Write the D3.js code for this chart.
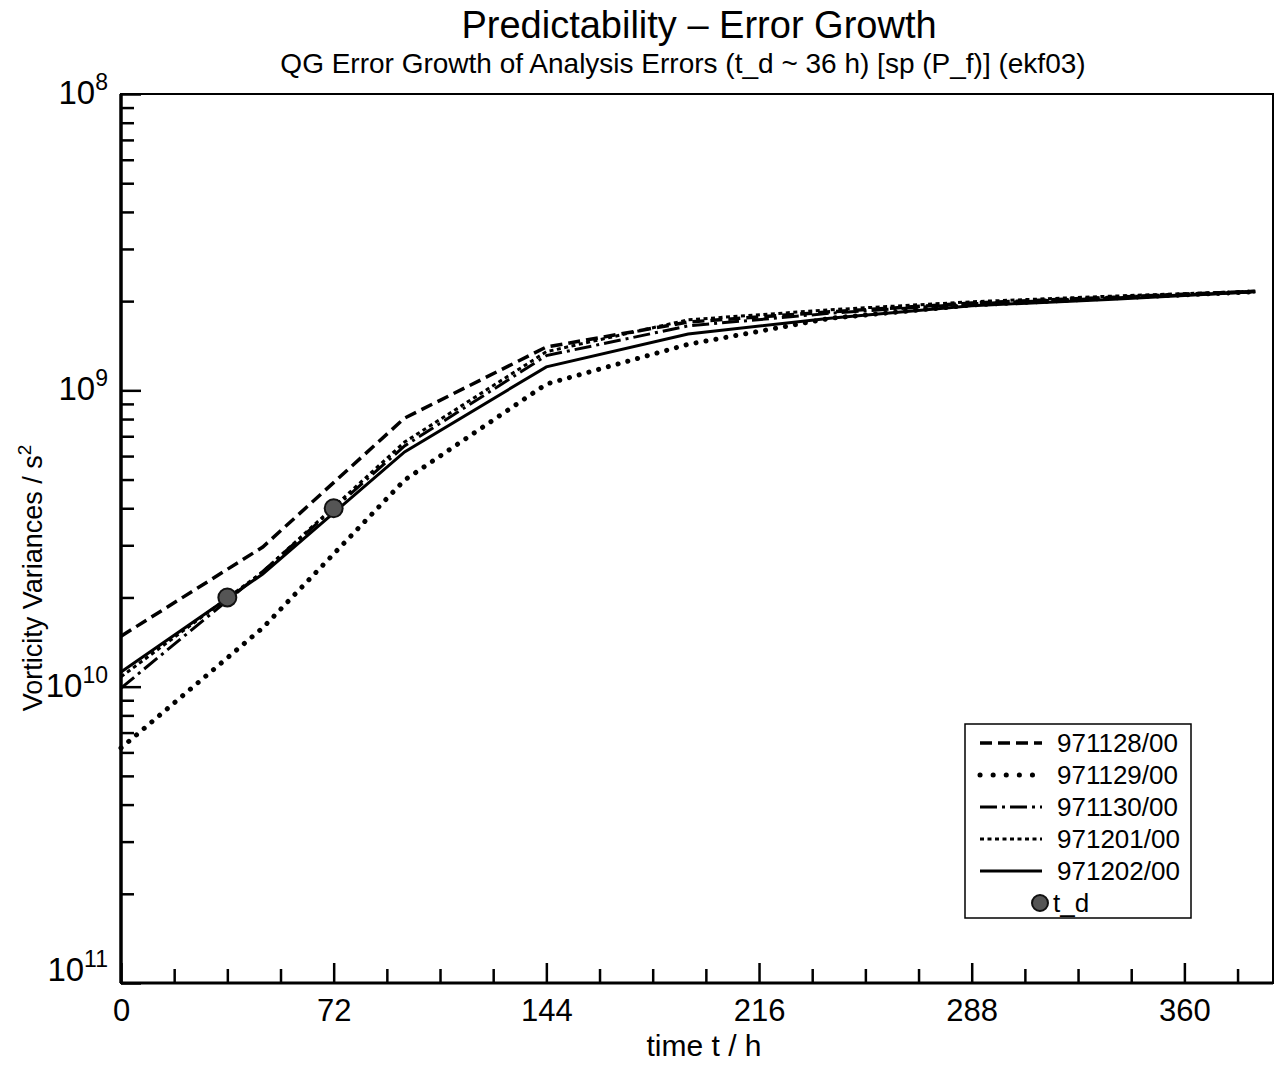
<!DOCTYPE html>
<html>
<head>
<meta charset="utf-8">
<script src="https://cdn.jsdelivr.net/npm/d3@7"></script>
<style>
  body { margin: 0; background: #fff; }
  text { font-family: "Liberation Sans", Arial, Helvetica, sans-serif; fill: #000; }
</style>
</head>
<body>
<div id="chart"></div>
<script>
// forecast hours at which each run was sampled
const hours = [0, 48, 96, 144, 192, 240, 288, 336, 384];

// vorticity error variances (s^-2) per run
const run971128 = [1.48e-10, 2.96e-10, 8.06e-10, 1.40e-9, 1.70e-9, 1.84e-9, 1.97e-9, 2.06e-9, 2.16e-9];
const run971129 = [6.21e-11, 1.58e-10, 4.98e-10, 1.05e-9, 1.43e-9, 1.75e-9, 1.94e-9, 2.05e-9, 2.15e-9];
const run971130 = [9.89e-11, 2.45e-10, 6.49e-10, 1.31e-9, 1.65e-9, 1.82e-9, 1.96e-9, 2.05e-9, 2.15e-9];
const run971201 = [1.08e-10, 2.44e-10, 6.69e-10, 1.35e-9, 1.73e-9, 1.87e-9, 1.99e-9, 2.08e-9, 2.16e-9];
const run971202 = [1.12e-10, 2.40e-10, 6.20e-10, 1.20e-9, 1.55e-9, 1.75e-9, 1.93e-9, 2.03e-9, 2.15e-9];

// doubling-time markers
const tdHours = [36, 72];
const tdValues = [2.0e-10, 4.0e-10];

// tick labels
const xMajorTicks = [0, 72, 144, 216, 288, 360];
const yDecades = [-8, -9, -10, -11];
const yLabels = ['8', '9', '10', '11'];

const seriesNames = ['971128/00', '971129/00', '971130/00', '971201/00', '971202/00'];
const seriesValues = [run971128, run971129, run971130, run971201, run971202];
const seriesDash = ['12 6', '0.1 10', '17 5 3 5', '4 3.5', null];
const seriesWidth = [3.5, 5, 3, 3, 3];

const width = 1275;
const height = 1066;
const margin = { top: 94, right: 2, bottom: 83, left: 121 };

const svg = d3.select('#chart')
  .append('svg')
  .attr('width', width)
  .attr('height', height);

const x = d3.scaleLinear()
  .domain([0, 390])
  .range([margin.left, width - margin.right]);

const y = d3.scaleLog()
  .domain([1e-11, 1e-8])
  .range([height - margin.bottom, margin.top]);

// titles
svg.append('text')
  .attr('x', 699)
  .attr('y', 38)
  .attr('text-anchor', 'middle')
  .style('font-size', '38px')
  .text('Predictability – Error Growth');

svg.append('text')
  .attr('x', 683)
  .attr('y', 73)
  .attr('text-anchor', 'middle')
  .style('font-size', '28px')
  .text('QG Error Growth of Analysis Errors (t_d ~ 36 h) [sp (P_f)] (ekf03)');

// x axis, minor then major ticks
const minorX = d3.range(0, 390, 18).filter(t => t % 72 !== 0);
svg.append('g')
  .attr('transform', `translate(0,${y.range()[0]})`)
  .call(d3.axisBottom(x).tickValues(minorX).tickSize(-14).tickFormat(''))
  .call(g => g.select('.domain').remove())
  .call(g => g.selectAll('line').attr('stroke-width', 2.5));

svg.append('g')
  .attr('transform', `translate(0,${y.range()[0]})`)
  .call(d3.axisBottom(x).tickValues(xMajorTicks).tickSize(-20).tickPadding(16))
  .call(g => g.select('.domain').remove())
  .call(g => g.selectAll('line').attr('stroke-width', 2.5))
  .call(g => g.selectAll('text').style('font-size', '31px').attr('font-family', null));

// y axis, minor then decades
const minorY = [];
[-11, -10, -9].forEach(d => {
  for (let k = 2; k <= 9; k++) minorY.push(k * Math.pow(10, d));
});

svg.append('g')
  .attr('transform', `translate(${margin.left},0)`)
  .call(d3.axisLeft(y).tickValues(minorY).tickSize(-13).tickFormat(''))
  .call(g => g.select('.domain').remove())
  .call(g => g.selectAll('line').attr('stroke-width', 2.5));

svg.append('g')
  .attr('transform', `translate(${margin.left},0)`)
  .call(d3.axisLeft(y).tickValues(yDecades.map(d => Math.pow(10, d))).tickSize(-20).tickFormat(''))
  .call(g => g.select('.domain').remove())
  .call(g => g.selectAll('line').attr('stroke-width', 2.5));

const yLab = svg.append('g').selectAll('text')
  .data(yDecades)
  .enter()
  .append('text')
  .attr('x', 108)
  .attr('y', (d, i) => y(Math.pow(10, d)) + (i === yDecades.length - 1 ? -2 : 10))
  .attr('text-anchor', 'end');

yLab.append('tspan')
  .style('font-size', '33px')
  .text('10');

yLab.append('tspan')
  .attr('dy', -14)
  .style('font-size', '23px')
  .text((d, i) => yLabels[i]);

// frame
svg.append('rect')
  .attr('x', margin.left)
  .attr('y', margin.top)
  .attr('width', x.range()[1] - margin.left)
  .attr('height', y.range()[0] - margin.top)
  .attr('fill', 'none')
  .attr('stroke', '#000')
  .attr('stroke-width', 2);

svg.append('line')
  .attr('x1', margin.left).attr('x2', margin.left)
  .attr('y1', margin.top).attr('y2', y.range()[0])
  .attr('stroke', '#000').attr('stroke-width', 3.5);

svg.append('line')
  .attr('x1', margin.left).attr('x2', x.range()[1])
  .attr('y1', y.range()[0]).attr('y2', y.range()[0])
  .attr('stroke', '#000').attr('stroke-width', 3);

// axis titles
svg.append('text')
  .attr('x', 704)
  .attr('y', 1056)
  .attr('text-anchor', 'middle')
  .style('font-size', '30px')
  .text('time t / h');

const yTitle = svg.append('text')
  .attr('transform', 'translate(42,578) rotate(-90)')
  .attr('text-anchor', 'middle')
  .style('font-size', '27px');
yTitle.append('tspan').text('Vorticity Variances / s');
yTitle.append('tspan').attr('dy', -11).style('font-size', '19px').text('2');

// series
const line = d3.line()
  .x(d => x(d.t))
  .y(d => y(d.v));

seriesValues.forEach((vals, i) => {
  svg.append('path')
    .datum(hours.map((t, j) => ({ t, v: vals[j] })))
    .attr('d', line)
    .attr('fill', 'none')
    .attr('stroke', '#000')
    .attr('stroke-width', seriesWidth[i])
    .attr('stroke-linecap', i === 1 ? 'round' : 'butt')
    .attr('stroke-dasharray', seriesDash[i]);
});

svg.selectAll('circle.td')
  .data(tdHours.map((t, j) => ({ t, v: tdValues[j] })))
  .enter()
  .append('circle')
  .attr('class', 'td')
  .attr('cx', d => x(d.t))
  .attr('cy', d => y(d.v))
  .attr('r', 9)
  .attr('fill', '#555')
  .attr('stroke', '#111')
  .attr('stroke-width', 2);

// legend
const legend = svg.append('g');
legend.append('rect')
  .attr('x', 965)
  .attr('y', 724)
  .attr('width', 226)
  .attr('height', 194)
  .attr('fill', '#fff')
  .attr('stroke', '#000')
  .attr('stroke-width', 1.5);

seriesNames.forEach((name, i) => {
  const ly = 743 + i * 32;
  legend.append('line')
    .attr('x1', 980).attr('x2', 1042)
    .attr('y1', ly).attr('y2', ly)
    .attr('stroke', '#000')
    .attr('stroke-width', seriesWidth[i])
    .attr('stroke-linecap', i === 1 ? 'round' : 'butt')
    .attr('stroke-dasharray', i === 1 ? '0.1 13' : seriesDash[i]);
  legend.append('text')
    .attr('x', 1057)
    .attr('y', ly + 9)
    .style('font-size', '26px')
    .text(name);
});

legend.append('circle')
  .attr('cx', 1040)
  .attr('cy', 903)
  .attr('r', 8)
  .attr('fill', '#555')
  .attr('stroke', '#111')
  .attr('stroke-width', 2);

legend.append('text')
  .attr('x', 1053)
  .attr('y', 912)
  .style('font-size', '26px')
  .text('t_d');
</script>
</body>
</html>
